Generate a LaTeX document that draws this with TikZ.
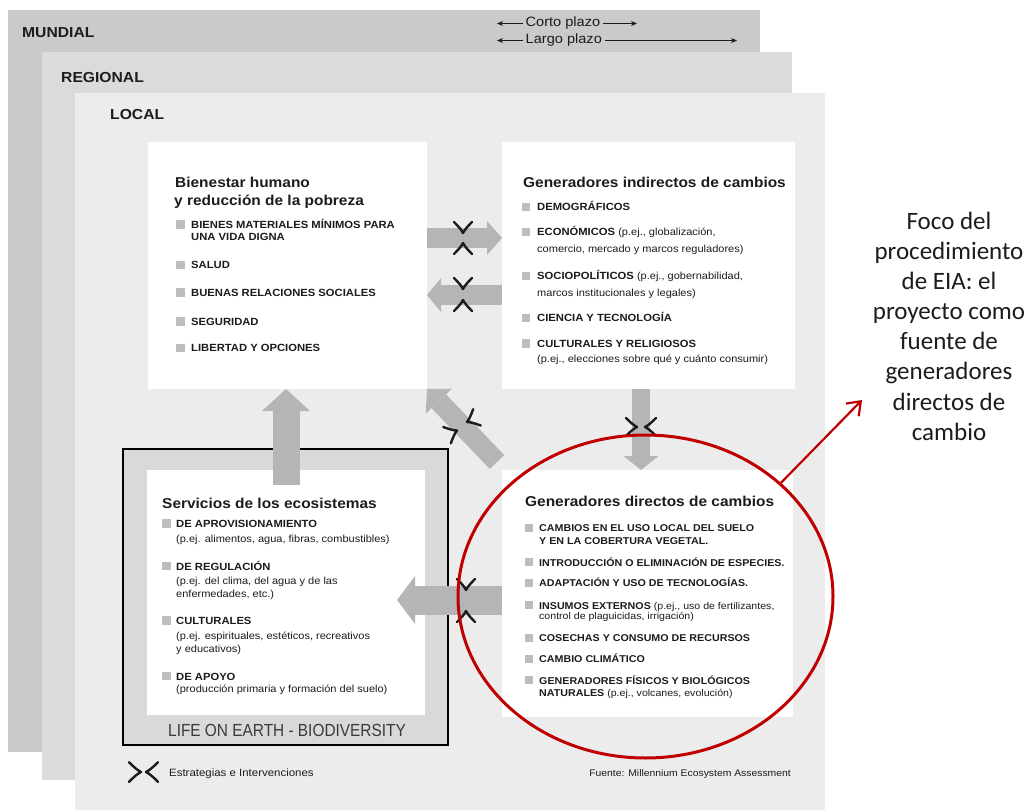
\documentclass[tikz,border=0pt]{standalone}
\usepackage{fontspec}
\setmainfont{Liberation Sans}[FakeStretch=1.08]
\newfontfamily\narrowfont{Liberation Sans}[FakeStretch=0.88]
\newfontfamily\notefont{Carlito}
\usetikzlibrary{arrows.meta,shapes.geometric}

\definecolor{mundo}{HTML}{C9CACC}
\definecolor{region}{HTML}{DADBDD}
\definecolor{zona}{HTML}{ECECEC}
\definecolor{flowgray}{HTML}{B4B5B7}
\definecolor{bulgray}{HTML}{BDBDBD}
\definecolor{ink}{HTML}{1C1C1C}
\definecolor{framefill}{HTML}{D9D9DA}
\definecolor{lifeink}{HTML}{3A3A3A}
\definecolor{focusred}{HTML}{C00000}

\tikzset{
  panel/.style={anchor=north west, inner sep=0pt, outer sep=0pt, draw=none},
  wbox/.style={panel, fill=white},
  lvl/.style={anchor=base west, inner sep=0pt, text=ink, font=\fontsize{14.5}{17}\selectfont\bfseries},
  plazo/.style={anchor=base west, inner xsep=2.5pt, inner ysep=0pt, text=ink, font=\fontsize{13.5}{16}\selectfont},
  timeline/.style={draw=ink, line width=0.8pt, -{Stealth[length=6pt,width=5pt]}},
  ttl/.style={anchor=base west, inner sep=0pt, text=ink, font=\fontsize{14.3}{17}\selectfont\bfseries},
  itm/.style={anchor=base west, inner sep=0pt, text=ink, font=\fontsize{10.4}{12}\selectfont\bfseries},
  itmd/.style={itm, font=\fontsize{9.9}{12}\selectfont\bfseries},
  dsc/.style={anchor=base west, inner sep=0pt, text=ink, font=\fontsize{10.2}{12}\selectfont},
  dscd/.style={dsc, font=\fontsize{9.8}{12}\selectfont},
  bul/.style={fill=bulgray, minimum size=8.5pt, inner sep=0pt, outer sep=0pt},
  flow/.style={draw=flowgray},
  foco/.style={anchor=base, inner sep=0pt, text=ink, font=\notefont\fontsize{25}{30}\selectfont},
  % curved chevron marking a strategy or intervention; its point sits at the origin
  strat/.pic={
    \draw[ink, line width=2.4pt, line cap=round, line join=round]
      (-11,9) .. controls (-6,4) and (-3,1.5) .. (0,0)
      .. controls (-3,-1.5) and (-6,-4) .. (-11,-9);
  },
}

\begin{document}
\begin{tikzpicture}[x=1pt,y=-1pt]
\useasboundingbox (0,0) rectangle (1034,810);
\fill[white] (0,0) rectangle (1034,810);

% nested scale panels
\node[panel, fill=mundo, minimum width=752pt, minimum height=742pt] (mundial) at (8,10) {};
\node[panel, fill=region, minimum width=750pt, minimum height=728pt] (regional) at (42,52) {};
\node[panel, fill=zona, minimum width=750pt, minimum height=717pt] (local) at (75,93) {};

\node[lvl] (lmundial) at (22,38) {MUNDIAL};
\node[lvl] (lregional) at (61,83) {REGIONAL};
\node[lvl] (llocal) at (110,120) {LOCAL};

% time horizons
\node[plazo] (corto) at (523,27) {Corto plazo};
\node[plazo] (largo) at (523,44) {Largo plazo};
\coordinate (cl) at (497,0);
\coordinate (cr) at (637,0);
\coordinate (lr) at (737,0);
\draw[timeline] (corto.west) -- (corto.west -| cl);
\draw[timeline] (corto.east) -- (corto.east -| cr);
\draw[timeline] (largo.west) -- (largo.west -| cl);
\draw[timeline] (largo.east) -- (largo.east -| lr);

% main boxes
\node[wbox, minimum width=279pt, minimum height=247pt] (bien) at (148,142) {};
\node[wbox, minimum width=293pt, minimum height=247pt] (ind) at (502,142) {};
\node[panel, draw=black, line width=2.2pt, fill=framefill, minimum width=325pt, minimum height=296pt] (frame) at (123,449) {};
\node[wbox, minimum width=278pt, minimum height=245pt] (serv) at (147,470) {};
\node[wbox, minimum width=291pt, minimum height=247pt] (dir) at (502,470) {};

% flows between boxes
\coordinate (y1) at (0,238);
\coordinate (y2) at (0,295);
\coordinate (x3) at (641,0);
\coordinate (d4) at (497,462);
\coordinate (s5) at (286,485);
\coordinate (y6) at (0,600);
\coordinate (t6) at (397,600);
\draw[flow, line width=20pt, -{Triangle[width=34pt,length=15pt,line width=0pt]}] (bien.east |- y1) -- (ind.west |- y1);
\draw[flow, line width=20pt, -{Triangle[width=34pt,length=14pt,line width=0pt]}] (ind.west |- y2) -- (bien.east |- y2);
\draw[flow, line width=18pt, -{Triangle[width=35pt,length=14pt,line width=0pt]}] (ind.south -| x3) -- (dir.north -| x3);
\draw[flow, line width=20pt, -{Triangle[width=36pt,length=17pt,line width=0pt]}] (d4) -- (bien.south east);
\draw[flow, line width=27pt, -{Triangle[width=48pt,length=22pt,line width=0pt]}] (s5) -- (bien.south -| s5);
\draw[flow, line width=29pt, -{Triangle[width=48pt,length=18pt,line width=0pt]}] (dir.west |- y6) -- (t6);

% strategies and interventions
\pic[rotate=-90] at (463,233) {strat};
\pic[rotate=90] at (463,243) {strat};
\pic[rotate=-90] at (463,289) {strat};
\pic[rotate=90] at (463,300) {strat};
\pic at (637,427) {strat};
\pic[rotate=180] at (645,427) {strat};
\pic[rotate=205] at (467,422) {strat};
\pic[rotate=25] at (457,430.5) {strat};
\pic[rotate=-90] at (466,590) {strat};
\pic[rotate=90] at (466,611) {strat};

% Bienestar humano
\node[ttl] (bt1) at (175,188) {Bienestar humano};
\node[ttl] (bt2) at (174,206) {y reducción de la pobreza};
\node[bul] (bb1) at (180.5,224.5) {};
\node[bul] (bb2) at (180.5,265) {};
\node[bul] (bb3) at (180.5,292.5) {};
\node[bul] (bb4) at (180.5,321.5) {};
\node[bul] (bb5) at (180.5,348) {};
\node[itm] (bi1) at (191,228.5) {BIENES MATERIALES MÍNIMOS PARA};
\node[itm] (bi1b) at (191,241) {UNA VIDA DIGNA};
\node[itm] (bi2) at (191,269) {SALUD};
\node[itm] (bi3) at (191,296.5) {BUENAS RELACIONES SOCIALES};
\node[itm] (bi4) at (191,325.5) {SEGURIDAD};
\node[itm] (bi5) at (191,352) {LIBERTAD Y OPCIONES};

% Generadores indirectos
\node[ttl] (it1) at (523,188) {Generadores indirectos de cambios};
\node[bul] (ib1) at (526,207) {};
\node[bul] (ib2) at (526,232) {};
\node[bul] (ib3) at (526,276) {};
\node[bul] (ib4) at (526,318) {};
\node[bul] (ib5) at (526,343.5) {};
\node[itm] (ii1) at (537,211) {DEMOGRÁFICOS};
\node[itm] (ii2) at (537,236) {ECONÓMICOS {\mdseries\fontsize{10.2}{12}\selectfont (p.ej., globalización,}};
\node[dsc] (ii2b) at (537,253) {comercio, mercado y marcos reguladores)};
\node[itm] (ii3) at (537,280) {SOCIOPOLÍTICOS {\mdseries\fontsize{10.2}{12}\selectfont (p.ej., gobernabilidad,}};
\node[dsc] (ii3b) at (537,296.5) {marcos institucionales y legales)};
\node[itm] (ii4) at (537,322) {CIENCIA Y TECNOLOGÍA};
\node[itm] (ii5) at (537,347.5) {CULTURALES Y RELIGIOSOS};
\node[dsc] (ii5b) at (537,362.5) {(p.ej., elecciones sobre qué y cuánto consumir)};

% Servicios de los ecosistemas
\node[ttl] (st1) at (162,508) {Servicios de los ecosistemas};
\node[bul] (sb1) at (166.5,523.5) {};
\node[bul] (sb2) at (166.5,566) {};
\node[bul] (sb3) at (166.5,620.5) {};
\node[bul] (sb4) at (166.5,676) {};
\node[itm] (si1) at (176,527.5) {DE APROVISIONAMIENTO};
\node[dsc] (si1b) at (176,542.7) {(p.ej. alimentos, agua, fibras, combustibles)};
\node[itm] (si2) at (176,570) {DE REGULACIÓN};
\node[dsc] (si2b) at (176,584.3) {(p.ej. del clima, del agua y de las};
\node[dsc] (si2c) at (176,597.7) {enfermedades, etc.)};
\node[itm] (si3) at (176,624.3) {CULTURALES};
\node[dsc] (si3b) at (176,639.3) {(p.ej. espirituales, estéticos, recreativos};
\node[dsc] (si3c) at (176,652.7) {y educativos)};
\node[itm] (si4) at (176,680) {DE APOYO};
\node[dsc] (si4b) at (176,692.7) {(producción primaria y formación del suelo)};
\node[anchor=base, inner sep=0pt, text=lifeink, font=\narrowfont\fontsize{17.5}{20}\selectfont] (life) at (287,736) {LIFE ON EARTH - BIODIVERSITY};

% Generadores directos
\node[ttl] (dt1) at (525,506.7) {Generadores directos de cambios};
\node[bul] (db1) at (529,528) {};
\node[bul] (db2) at (529,562) {};
\node[bul] (db3) at (529,583) {};
\node[bul] (db4) at (529,605) {};
\node[bul] (db5) at (529,638) {};
\node[bul] (db6) at (529,659) {};
\node[bul] (db7) at (529,680) {};
\node[itmd] (di1) at (539,531.7) {CAMBIOS EN EL USO LOCAL DEL SUELO};
\node[itmd] (di1b) at (539,544) {Y EN LA COBERTURA VEGETAL.};
\node[itmd] (di2) at (539,566) {INTRODUCCIÓN O ELIMINACIÓN DE ESPECIES.};
\node[itmd] (di3) at (539,586.7) {ADAPTACIÓN Y USO DE TECNOLOGÍAS.};
\node[itmd] (di4) at (539,609) {INSUMOS EXTERNOS {\mdseries\fontsize{9.8}{12}\selectfont (p.ej., uso de fertilizantes,}};
\node[dscd] (di4b) at (539,619.3) {control de plaguicidas, irrigación)};
\node[itmd] (di5) at (539,641.7) {COSECHAS Y CONSUMO DE RECURSOS};
\node[itmd] (di6) at (539,662.7) {CAMBIO CLIMÁTICO};
\node[itmd] (di7) at (539,684) {GENERADORES FÍSICOS Y BIOLÓGICOS};
\node[itmd] (di7b) at (539,696) {NATURALES {\mdseries\fontsize{9.8}{12}\selectfont (p.ej., volcanes, evolución)}};

% legend and source
\pic[scale=1.1] at (141,772) {strat};
\pic[scale=1.1, rotate=180] at (146,772) {strat};
\node[anchor=base west, inner sep=0pt, text=ink, font=\fontsize{10.6}{12}\selectfont] (leg) at (169,776) {Estrategias e Intervenciones};
\node[anchor=base east, inner sep=0pt, text=ink, font=\fontsize{9.6}{12}\selectfont] (src) at (791,776) {Fuente: Millennium Ecosystem Assessment};

% focus of the EIA procedure
\node[ellipse, draw=focusred, line width=3pt, minimum width=375pt, minimum height=323pt, inner sep=0pt] (focus) at (645.5,596.5) {};
\coordinate (tip) at (862,400);
\draw[draw=focusred, line width=2.2pt, -{Straight Barb[length=12pt,width=18pt]}] (focus.40) -- (tip);
\foreach \txt [count=\i] in {Foco del, procedimiento, de EIA: el, proyecto como, fuente de, generadores, directos de, cambio}
  \node[foco] (foco\i) at (949,200+30*\i) {\txt};
\end{tikzpicture}
\end{document}
